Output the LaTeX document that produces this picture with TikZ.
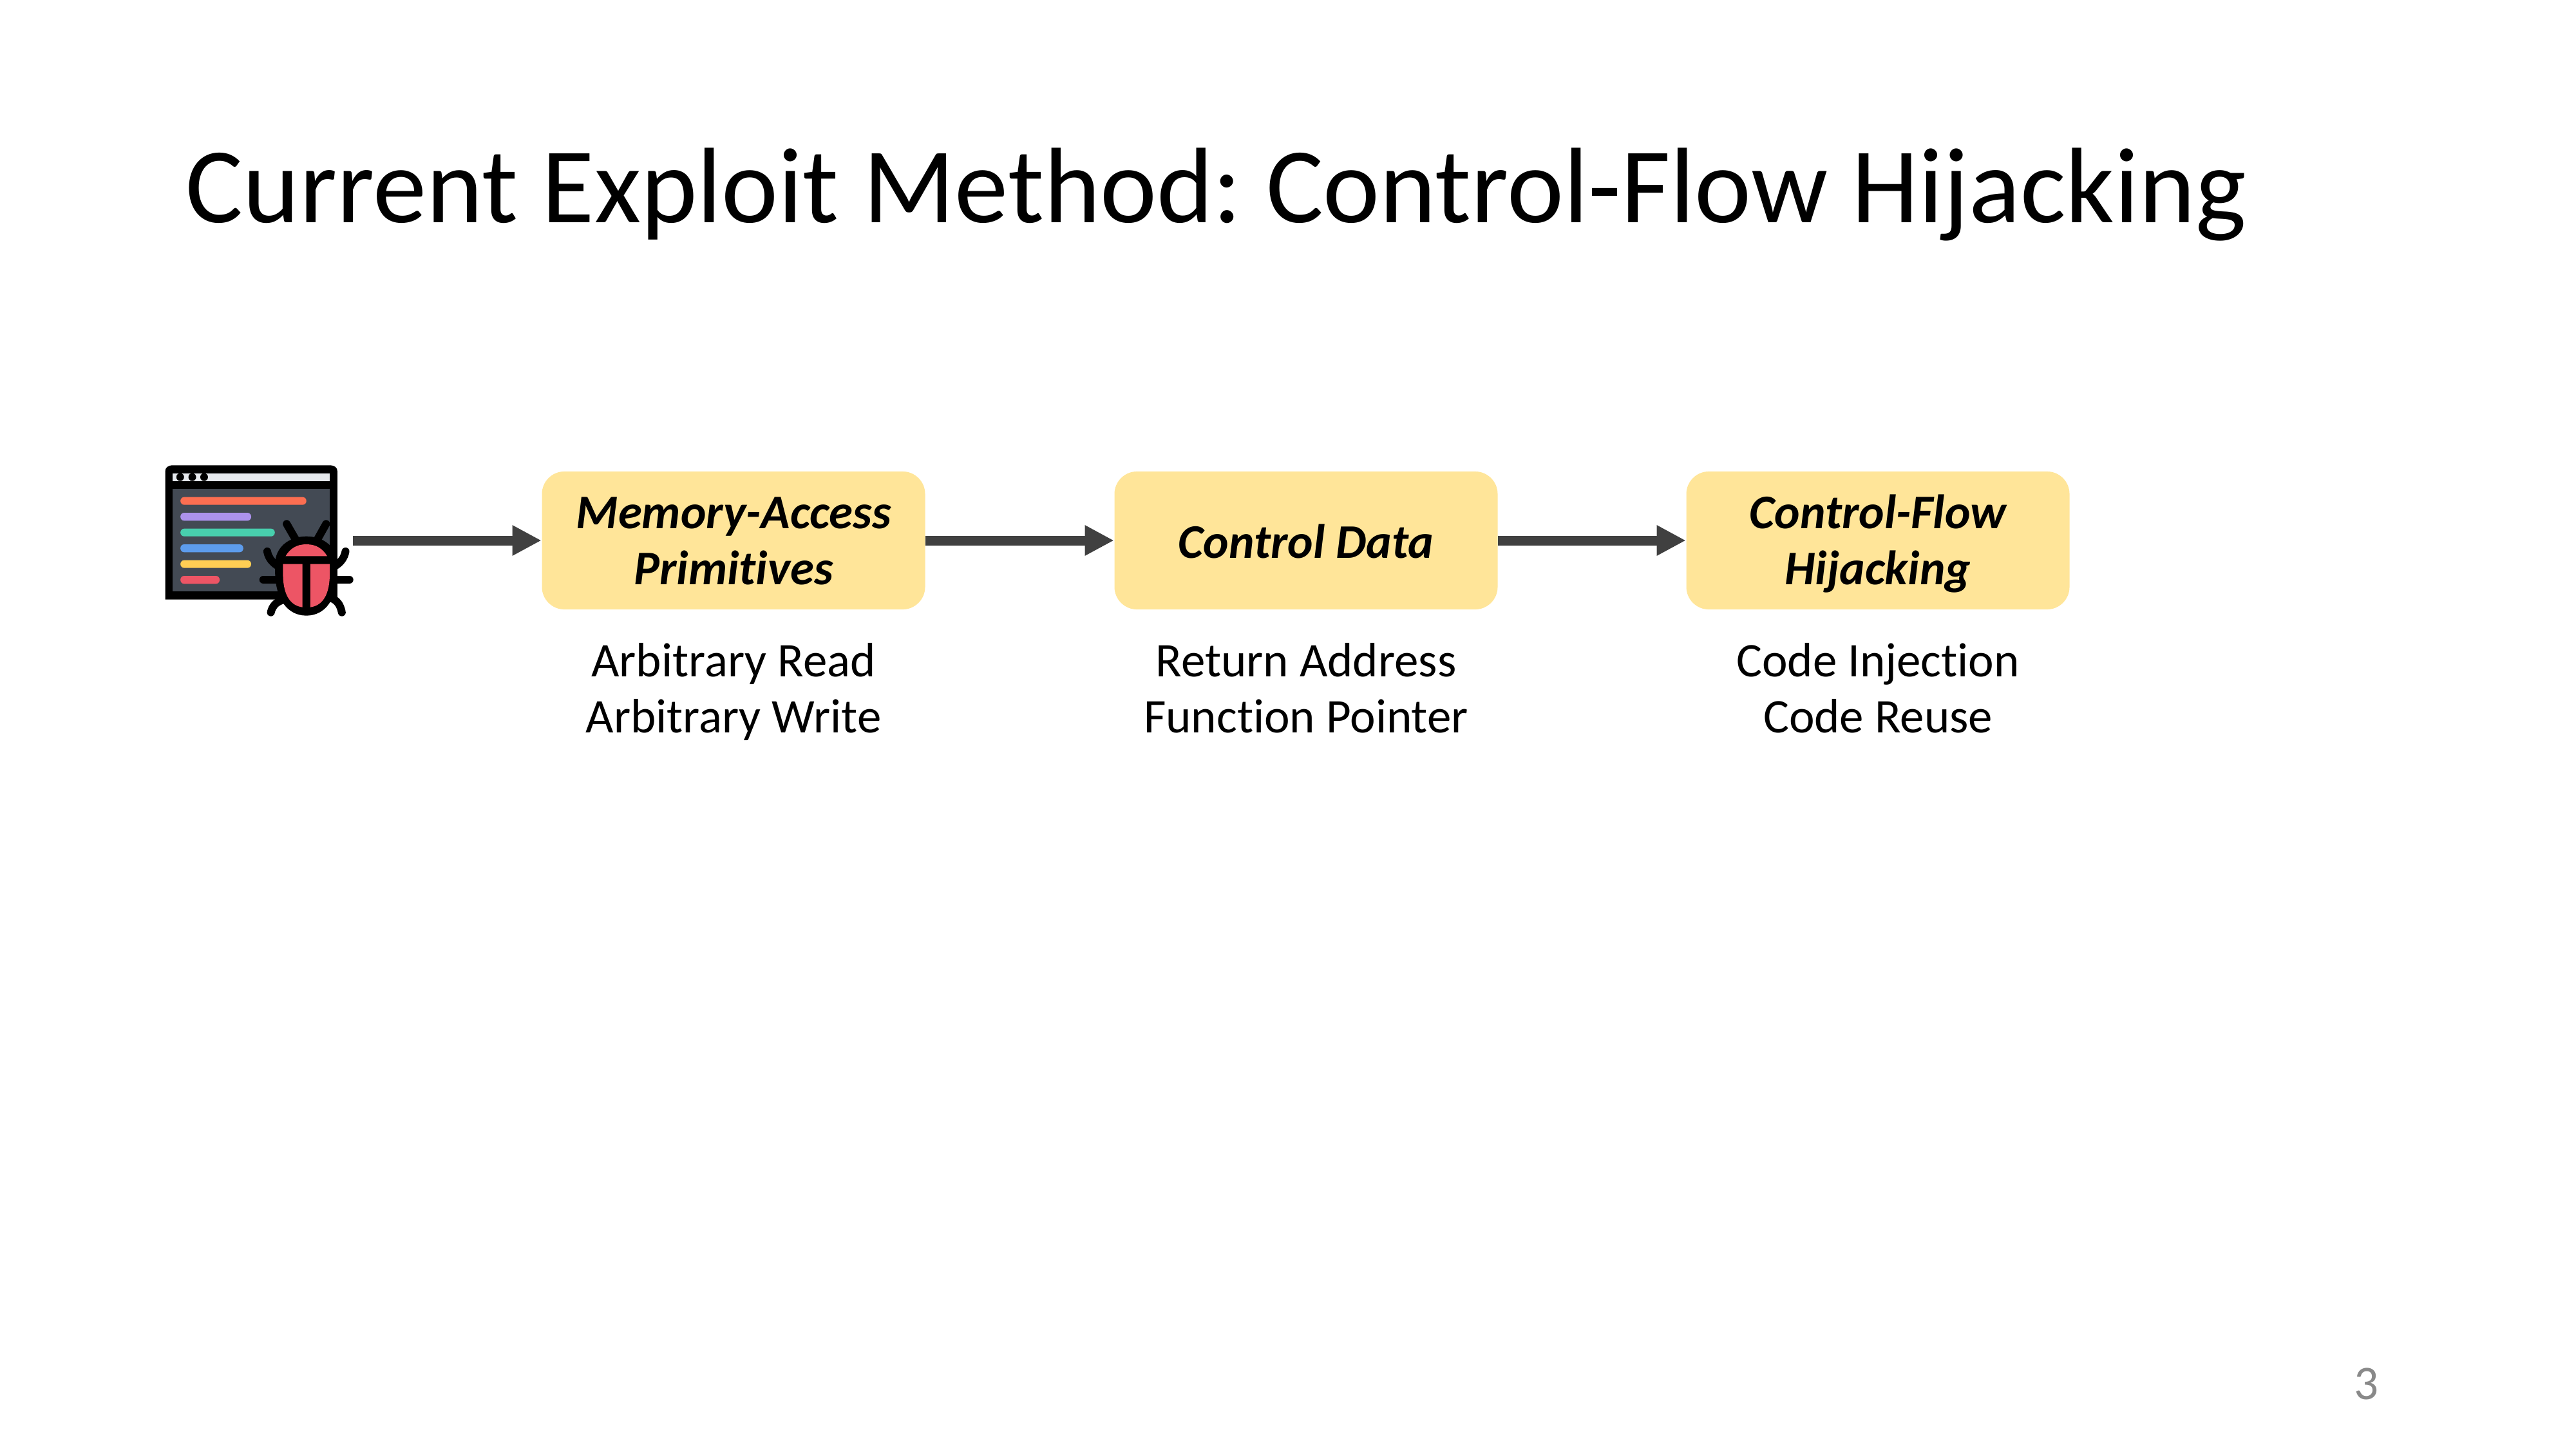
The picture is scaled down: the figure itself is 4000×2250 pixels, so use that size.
\documentclass[tikz,border=0pt]{standalone}
\usepackage{fontspec}
\setmainfont[Ligatures=NoCommon]{Carlito}
\usetikzlibrary{arrows.meta}
\definecolor{boxfill}{HTML}{FFE599}
\definecolor{arrowgray}{HTML}{404040}
\definecolor{pagegray}{HTML}{898989}
\definecolor{panel}{HTML}{434A54}
\definecolor{barlight}{HTML}{E6E9ED}
\definecolor{cred}{HTML}{FC6E51}
\definecolor{cpurple}{HTML}{AC92EC}
\definecolor{cgreen}{HTML}{48CFAD}
\definecolor{cblue}{HTML}{5D9CEC}
\definecolor{cyellow}{HTML}{FFCE54}
\definecolor{cpink}{HTML}{ED5565}
\tikzset{
  stagebox/.style={draw=none,fill=boxfill,rounded corners=8.4bp,minimum width=142.8bp,minimum height=51.4bp,inner sep=0pt},
  stagelabel/.style={inner sep=0pt,align=center,font=\fontsize{18bp}{20.9bp}\selectfont\bfseries\itshape},
  subtext/.style={inner sep=0pt,align=center,font=\fontsize{18bp}{20.9bp}\selectfont},
  flow/.style={draw=arrowgray,line width=3.6bp,-{Triangle[length=10.8bp,width=10.6bp]},shorten >=0pt,shorten <=0pt},
  codebar/.style={rounded corners=1.4bp},
  bugline/.style={draw=black,line width=2.9bp,line cap=round}
}
\begin{document}
\frenchspacing
\begin{tikzpicture}[x=0.24bp,y=-0.24bp]
\useasboundingbox (0,0) rectangle (4000,2250);
\node[anchor=base west,inner sep=0pt,font=\fontsize{40bp}{48bp}\selectfont] (title) at (288,345) {Current Exploit Method: Control-Flow Hijacking};
\node[stagebox] (mem) at (1139,839) {};
\node[stagebox] (ctl) at (2028,839) {};
\node[stagebox] (cfh) at (2916,839) {};
\node[stagelabel] (memlabel) at (1139,847) {\strut Memory-Access\\\strut Primitives};
\node[stagelabel] (ctllabel) at (2028,849) {\strut Control Data};
\node[stagelabel] (cfhlabel) at (2916,847) {\strut Control-Flow\\\strut Hijacking};
\node[subtext] (memsub) at (1139,1077) {\strut Arbitrary Read\\\strut Arbitrary Write};
\node[subtext] (ctlsub) at (2028,1077) {\strut Return Address\\\strut Function Pointer};
\node[subtext] (cfhsub) at (2916,1077) {\strut Code Injection\\\strut Code Reuse};
\node[inner sep=0pt,text=pagegray,font=\fontsize{18bp}{20bp}\selectfont] (page) at (3674,2148) {3};
\coordinate (bugout) at (548,839);
\draw[flow] (bugout) -- (mem.west);
\draw[flow] (mem.east) -- (ctl.west);
\draw[flow] (ctl.east) -- (cfh.west);
\begin{scope}[shift={(230,700)},x=0.09796bp,y=-0.08bp]
  % window
  \fill[black] (65,692) -- (65,95) .. controls (65,78) and (75,67) .. (95,67) -- (690,67) .. controls (710,67) and (720,78) .. (720,95) -- (720,692) -- cycle;
  \fill[barlight] (93,104) rectangle (691,141);
  \fill[black] (122,122) circle[radius=1.44bp] (168,122) circle[radius=1.44bp] (213,122) circle[radius=1.44bp];
  \fill[panel] (93,178) rectangle (691,655);
  \fill[cred,codebar] (123,215) rectangle (602,251);
  \fill[cpurple,codebar] (123,288) rectangle (392,325);
  \fill[cgreen,codebar] (123,362) rectangle (482,398);
  \fill[cblue,codebar] (123,435) rectangle (362,472);
  \fill[cyellow,codebar] (123,509) rectangle (392,545);
  \fill[cpink,codebar] (123,582) rectangle (272,619);
  % bug legs
  \draw[bugline] (527,340) -- (560,410);
  \draw[bugline] (677,340) -- (645,410);
  \draw[bugline] (453,468) .. controls (458,500) and (475,525) .. (500,540);
  \draw[bugline] (751,468) .. controls (746,500) and (730,525) .. (705,540);
  \draw[bugline] (438,600) -- (500,600);
  \draw[bugline] (766,600) -- (705,600);
  \draw[bugline] (467,752) .. controls (472,725) and (485,705) .. (510,695);
  \draw[bugline] (737,752) .. controls (732,720) and (720,695) .. (695,685);
  % bug body
  \fill[black] (602,398) .. controls (535,398) and (483,450) .. (483,527) -- (483,560) .. controls (483,690) and (530,767) .. (602,767) .. controls (674,767) and (720,690) .. (720,560) -- (720,527) .. controls (720,450) and (669,398) .. (602,398) -- cycle;
  \fill[cpink] (523,490) .. controls (540,455) and (565,435) .. (602,435) .. controls (639,435) and (664,455) .. (681,490) -- cycle;
  \fill[cpink] (513,527) -- (587,527) -- (587,728) .. controls (540,720) and (513,670) .. (513,570) -- cycle;
  \fill[cpink] (691,527) -- (617,527) -- (617,728) .. controls (664,720) and (691,670) .. (691,570) -- cycle;
\end{scope}
\end{tikzpicture}
\end{document}
